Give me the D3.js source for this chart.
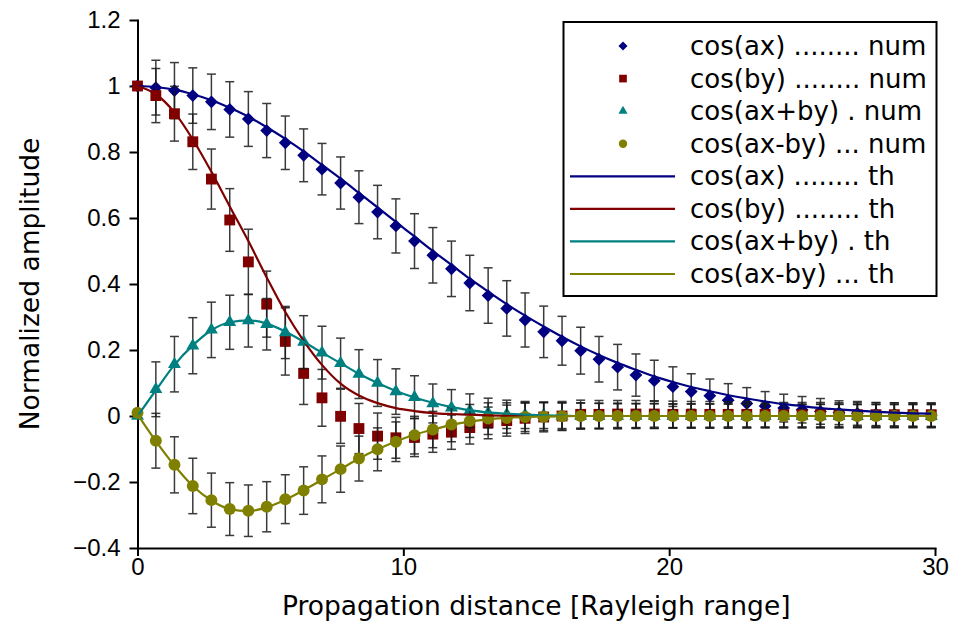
<!DOCTYPE html>
<html>
<head>
<meta charset="utf-8">
<script src="https://cdn.jsdelivr.net/npm/d3@7"></script>
<style>
  body { margin: 0; background: #fff; }
  svg { display: block; font-family: "DejaVu Sans", sans-serif; }
  .axis path, .axis line { stroke: #000; stroke-width: 2px; }
  .axis text { font-size: 24px; fill: #000; }
  .axis-label { font-size: 26.5px; }
  .legend text { font-size: 26px; }
</style>
</head>
<body>
<div id="chart"></div>
<script>
// propagation distance of the sampled points
const xValues = [0, 0.69, 1.39, 2.08, 2.78, 3.47, 4.17, 4.86, 5.56, 6.25, 6.94, 7.64, 8.33, 9.03, 9.72,
  10.42, 11.11, 11.81, 12.5, 13.19, 13.89, 14.58, 15.28, 15.97, 16.67, 17.36, 18.06, 18.75, 19.44, 20.14,
  20.83, 21.53, 22.22, 22.92, 23.61, 24.31, 25.0, 25.69, 26.39, 27.08, 27.78, 28.47, 29.17, 29.86];

// numerical results
const cosAxNum = [1.0, 0.995, 0.986, 0.971, 0.952, 0.929, 0.900, 0.865, 0.828, 0.790, 0.748, 0.706, 0.663, 0.618, 0.576,
  0.530, 0.487, 0.446, 0.403, 0.365, 0.326, 0.291, 0.255, 0.228, 0.198, 0.172, 0.148, 0.124, 0.107, 0.089,
  0.074, 0.061, 0.048, 0.038, 0.030, 0.024, 0.019, 0.014, 0.010, 0.008, 0.006, 0.005, 0.004, 0.003];
const cosByNum = [1.0, 0.971, 0.916, 0.831, 0.718, 0.594, 0.467, 0.339, 0.226, 0.129, 0.055, -0.001, -0.038, -0.061, -0.066,
  -0.065, -0.055, -0.049, -0.035, -0.021, -0.014, -0.007, -0.003, 0.0, 0.005, 0.005, 0.006, 0.006, 0.006, 0.005,
  0.005, 0.005, 0.005, 0.005, 0.005, 0.004, 0.004, 0.004, 0.004, 0.004, 0.004, 0.004, 0.004, 0.004];
const cosSumNum = [0.0, 0.081, 0.157, 0.213, 0.261, 0.284, 0.289, 0.278, 0.253, 0.224, 0.192, 0.160, 0.127, 0.100, 0.074,
  0.057, 0.038, 0.025, 0.016, 0.009, 0.005, 0.003, 0.002, 0.001, 0.001, 0, 0, 0, 0, 0,
  0, 0, 0, 0, 0, 0, 0, 0, 0, 0, 0, 0, 0, 0];
const cosDiffNum = [0.01, -0.075, -0.148, -0.212, -0.255, -0.282, -0.287, -0.275, -0.252, -0.226, -0.192, -0.161, -0.129, -0.101, -0.078,
  -0.058, -0.041, -0.026, -0.015, -0.008, -0.006, -0.003, -0.002, -0.001, 0, 0, 0, 0, 0, 0,
  0, 0, 0, 0, 0, 0, 0, 0, 0, 0, 0, 0, 0, 0];

// error bar half heights
const cosAxErr = [0, 0.083, 0.085, 0.084, 0.084, 0.084, 0.083, 0.082, 0.081, 0.080, 0.078, 0.079, 0.080, 0.081, 0.082,
  0.083, 0.084, 0.084, 0.084, 0.084, 0.084, 0.082, 0.078, 0.074, 0.071, 0.069, 0.069, 0.064, 0.062, 0.060,
  0.054, 0.051, 0.050, 0.048, 0.044, 0.042, 0.040, 0.039, 0.036, 0.036, 0.035, 0.035, 0.035, 0.035];
const cosByErr = [0, 0.082, 0.083, 0.084, 0.091, 0.095, 0.099, 0.100, 0.102, 0.094, 0.086, 0.082, 0.076, 0.070, 0.062,
  0.058, 0.055, 0.052, 0.050, 0.048, 0.047, 0.046, 0.045, 0.044, 0.043, 0.042, 0.041, 0.041, 0.040, 0.040,
  0.039, 0.039, 0.038, 0.038, 0.038, 0.037, 0.037, 0.037, 0.036, 0.036, 0.036, 0.036, 0.036, 0.036];
const cosSumErr = [0, 0.083, 0.084, 0.085, 0.084, 0.082, 0.080, 0.078, 0.079, 0.080, 0.080, 0.076, 0.074, 0.071, 0.069,
  0.065, 0.059, 0.055, 0.051, 0.045, 0.043, 0.041, 0.040, 0.039, 0.038, 0.038, 0.037, 0.037, 0.037, 0.036,
  0.036, 0.036, 0.036, 0.036, 0.035, 0.035, 0.035, 0.035, 0.035, 0.035, 0.035, 0.035, 0.035, 0.035];
const cosDiffErr = [0, 0.083, 0.085, 0.084, 0.082, 0.080, 0.078, 0.076, 0.074, 0.072, 0.071, 0.070, 0.068, 0.065, 0.060,
  0.057, 0.055, 0.052, 0.050, 0.048, 0.046, 0.044, 0.042, 0.041, 0.040, 0.039, 0.039, 0.038, 0.038, 0.037,
  0.037, 0.037, 0.037, 0.036, 0.036, 0.036, 0.036, 0.036, 0.036, 0.035, 0.035, 0.035, 0.035, 0.035];

// theory curves
const cosAxTh = [1.0, 0.997, 0.989, 0.975, 0.957, 0.934, 0.907, 0.875, 0.840, 0.802, 0.761, 0.719, 0.676, 0.632, 0.588,
  0.544, 0.500, 0.458, 0.416, 0.377, 0.339, 0.304, 0.271, 0.240, 0.211, 0.185, 0.161, 0.140, 0.120, 0.103,
  0.088, 0.075, 0.063, 0.053, 0.044, 0.036, 0.030, 0.024, 0.020, 0.016, 0.013, 0.010, 0.008, 0.007];
const cosByTh = [1.0, 0.975, 0.920, 0.838, 0.740, 0.635, 0.530, 0.420, 0.315, 0.228, 0.155, 0.098, 0.062, 0.039, 0.024,
  0.015, 0.009, 0.006, 0.004, 0.002, 0.001, 0, 0, 0, 0, 0, 0, 0, 0, 0,
  0, 0, 0, 0, 0, 0, 0, 0, 0, 0, 0, 0, 0, 0];
const cosSumTh = [0, 0.078, 0.155, 0.214, 0.260, 0.284, 0.290, 0.280, 0.256, 0.225, 0.192, 0.160, 0.128, 0.100, 0.076,
  0.056, 0.040, 0.027, 0.018, 0.011, 0.007, 0.004, 0.002, 0.001, 0, 0, 0, 0, 0, 0,
  0, 0, 0, 0, 0, 0, 0, 0, 0, 0, 0, 0, 0, 0];
const cosDiffTh = [0.005, -0.076, -0.150, -0.212, -0.256, -0.282, -0.288, -0.277, -0.254, -0.225, -0.193, -0.161, -0.129, -0.101, -0.077,
  -0.057, -0.041, -0.027, -0.017, -0.010, -0.006, -0.003, -0.002, -0.001, 0, 0, 0, 0, 0, 0,
  0, 0, 0, 0, 0, 0, 0, 0, 0, 0, 0, 0, 0, 0];

const numLabels = ["cos(ax) ........ num", "cos(by) ........ num", "cos(ax+by) . num", "cos(ax-by) ... num"];
const thLabels = ["cos(ax) ........ th", "cos(by) ........ th", "cos(ax+by) . th", "cos(ax-by) ... th"];
const seriesColors = ["#000080", "#800000", "#008080", "#808000"];
const xTicks = [0, 10, 20, 30];
const yTicks = [-0.4, -0.2, 0, 0.2, 0.4, 0.6, 0.8, 1, 1.2];

const numSeries = [cosAxNum, cosByNum, cosSumNum, cosDiffNum];
const errSeries = [cosAxErr, cosByErr, cosSumErr, cosDiffErr];
const thSeries = [cosAxTh, cosByTh, cosSumTh, cosDiffTh];
const symbols = [d3.symbolDiamond2, d3.symbolSquare2, d3.symbolTriangle2, d3.symbolCircle];
const symbolSizes = [105, 150, 120, 112];

const width = 957, height = 623;
const margin = { top: 20, right: 22, bottom: 75, left: 137.5 };
const innerW = width - margin.left - margin.right;
const innerH = height - margin.top - margin.bottom;

const svg = d3.select("#chart").append("svg")
  .attr("width", width)
  .attr("height", height);

const g = svg.append("g")
  .attr("transform", "translate(" + margin.left + "," + margin.top + ")");

const x = d3.scaleLinear().domain([0, 30]).range([0, innerW]);
const y = d3.scaleLinear().domain([-0.4, 1.2]).range([innerH, 0]);

const fmt = function (d) {
  return d3.format("~g")(d).replace("-", "\u2212");
};

g.append("g")
  .attr("class", "axis")
  .attr("transform", "translate(0," + innerH + ")")
  .call(d3.axisBottom(x).tickValues(xTicks).tickFormat(fmt).tickSize(8).tickSizeOuter(0).tickPadding(2));

g.append("g")
  .attr("class", "axis")
  .call(d3.axisLeft(y).tickValues(yTicks).tickFormat(fmt).tickSize(8).tickSizeOuter(0).tickPadding(9));

g.selectAll(".axis path").attr("stroke-linecap", "square");

svg.append("text")
  .attr("class", "axis-label")
  .attr("x", margin.left + innerW / 2)
  .attr("y", 615)
  .attr("text-anchor", "middle")
  .text("Propagation distance [Rayleigh range]");

svg.append("text")
  .attr("class", "axis-label")
  .attr("transform", "rotate(-90)")
  .attr("x", -(margin.top + innerH / 2))
  .attr("y", 39)
  .attr("text-anchor", "middle")
  .text("Normalized amplitude");

// error bars + markers per series
numSeries.forEach(function (vals, s) {
  const pts = vals.map(function (v, i) {
    return { x: xValues[i], y: v, e: errSeries[s][i] };
  });
  const bars = g.append("g").attr("class", "errbars")
    .attr("stroke", "#1a1a1a").attr("stroke-width", 1.5).attr("opacity", 0.85);
  const withErr = pts.filter(function (d) { return d.e > 0; });
  bars.selectAll("line.v").data(withErr).enter().append("line")
    .attr("x1", function (d) { return x(d.x); })
    .attr("x2", function (d) { return x(d.x); })
    .attr("y1", function (d) { return y(d.y - d.e); })
    .attr("y2", function (d) { return y(d.y + d.e); });
  [-1, 1].forEach(function (sign) {
    bars.selectAll("line.c" + (sign + 1)).data(withErr).enter().append("line")
      .attr("x1", function (d) { return x(d.x) - 4.5; })
      .attr("x2", function (d) { return x(d.x) + 4.5; })
      .attr("y1", function (d) { return y(d.y + sign * d.e); })
      .attr("y2", function (d) { return y(d.y + sign * d.e); });
  });
  g.append("g").selectAll("path").data(pts).enter().append("path")
    .attr("d", d3.symbol().type(symbols[s]).size(symbolSizes[s]))
    .attr("transform", function (d) { return "translate(" + x(d.x) + "," + y(d.y) + ")"; })
    .attr("fill", seriesColors[s]);
});

// theory lines
const line = d3.line()
  .x(function (d) { return x(d.x); })
  .y(function (d) { return y(d.y); })
  .curve(d3.curveMonotoneX);

thSeries.forEach(function (vals, s) {
  const pts = vals.map(function (v, i) { return { x: xValues[i], y: v }; });
  g.append("path")
    .datum(pts)
    .attr("d", line)
    .attr("fill", "none")
    .attr("stroke", seriesColors[s])
    .attr("stroke-width", 2.2);
});

// legend
const legend = svg.append("g").attr("class", "legend");
legend.append("rect")
  .attr("x", 563.5).attr("y", 22)
  .attr("width", 373).attr("height", 274)
  .attr("fill", "#fff").attr("stroke", "#000").attr("stroke-width", 2);

const rowY = d3.scalePoint().domain(d3.range(8)).range([46, 274]);

numLabels.forEach(function (label, i) {
  legend.append("path")
    .attr("d", d3.symbol().type(symbols[i]).size(symbolSizes[i] * 0.5))
    .attr("transform", "translate(623," + rowY(i) + ")")
    .attr("fill", seriesColors[i]);
  legend.append("text")
    .attr("x", 690).attr("y", rowY(i))
    .attr("dominant-baseline", "central")
    .text(label);
});
thLabels.forEach(function (label, i) {
  legend.append("line")
    .attr("x1", 570).attr("x2", 675)
    .attr("y1", rowY(i + 4)).attr("y2", rowY(i + 4))
    .attr("stroke", seriesColors[i]).attr("stroke-width", 2.2);
  legend.append("text")
    .attr("x", 690).attr("y", rowY(i + 4))
    .attr("dominant-baseline", "central")
    .text(label);
});
</script>
</body>
</html>
